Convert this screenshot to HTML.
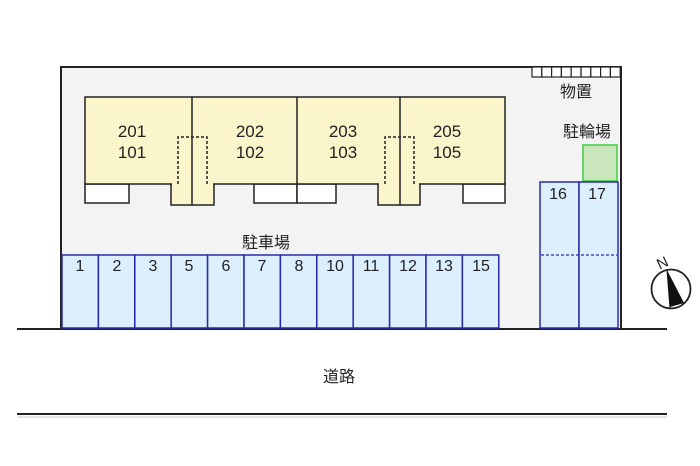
<!DOCTYPE html>
<html><head><meta charset="utf-8"><style>
html,body{margin:0;padding:0;background:#fff;}
svg{display:block;}
text{font-family:"Liberation Sans","Noto Sans CJK JP",sans-serif;fill:#222;}
</style></head><body>
<svg width="700" height="466" viewBox="0 0 700 466" xmlns="http://www.w3.org/2000/svg">
<!-- lot -->
<rect x="61" y="67" width="560" height="262" fill="#f3f3f3" stroke="#222" stroke-width="2"/>
<!-- road lines -->
<line x1="17" y1="329" x2="667" y2="329" stroke="#222" stroke-width="2"/>
<line x1="17" y1="414" x2="667" y2="414" stroke="#222" stroke-width="2"/>
<line x1="17" y1="417" x2="667" y2="417" stroke="#ccc" stroke-width="1"/>
<text x="339" y="382" font-size="16" text-anchor="middle">道路</text>

<!-- storage tiles -->
<g fill="#fff" stroke="#222" stroke-width="1.2">
<rect x="532" y="67" width="9.8" height="10"/><rect x="541.8" y="67" width="9.8" height="10"/><rect x="551.6" y="67" width="9.8" height="10"/><rect x="561.4" y="67" width="9.8" height="10"/><rect x="571.2" y="67" width="9.8" height="10"/><rect x="581" y="67" width="9.8" height="10"/><rect x="590.8" y="67" width="9.8" height="10"/><rect x="600.6" y="67" width="9.8" height="10"/><rect x="610.4" y="67" width="9.8" height="10"/>
</g>
<text x="576" y="97" font-size="16" text-anchor="middle">物置</text>
<text x="587" y="137" font-size="16" text-anchor="middle">駐輪場</text>
<rect x="583" y="145" width="34" height="36" fill="#c9e6bd" stroke="#3ccf3c" stroke-width="1.5"/>

<!-- building -->
<g stroke="#222" stroke-width="1.5">
<rect x="85" y="184" width="44" height="19" fill="#fff"/>
<rect x="254" y="184" width="43" height="19" fill="#fff"/>
<rect x="297" y="184" width="39" height="19" fill="#fff"/>
<rect x="463" y="184" width="42" height="19" fill="#fff"/>
<rect x="171" y="170" width="43" height="35" fill="#faf5cb"/>
<rect x="378" y="170" width="42" height="35" fill="#faf5cb"/>
<rect x="85" y="97" width="420" height="87" fill="#faf5cb"/>
</g>
<rect x="172" y="180" width="41" height="6" fill="#faf5cb"/>
<rect x="379" y="180" width="40" height="6" fill="#faf5cb"/>
<g stroke="#222" stroke-width="1.5">
<line x1="192" y1="97" x2="192" y2="205"/>
<line x1="297" y1="97" x2="297" y2="184"/>
<line x1="400" y1="97" x2="400" y2="205"/>
</g>
<g fill="none" stroke="#222" stroke-width="1.5" stroke-dasharray="3,2">
<polyline points="178,184 178,137 207,137 207,184"/>
<polyline points="385,184 385,137 414,137 414,184"/>
</g>
<g font-size="17" text-anchor="middle">
<text x="132" y="137">201</text><text x="132" y="158">101</text>
<text x="250" y="137">202</text><text x="250" y="158">102</text>
<text x="343" y="137">203</text><text x="343" y="158">103</text>
<text x="447" y="137">205</text><text x="447" y="158">105</text>
</g>

<!-- parking -->
<text x="266" y="248" font-size="16" text-anchor="middle">駐車場</text>
<g fill="#dcefff" stroke="#2a2ab0" stroke-width="1.5">
<rect x="62" y="255" width="36.4" height="73"/><rect x="98.4" y="255" width="36.4" height="73"/><rect x="134.8" y="255" width="36.4" height="73"/><rect x="171.2" y="255" width="36.4" height="73"/><rect x="207.6" y="255" width="36.4" height="73"/><rect x="244" y="255" width="36.4" height="73"/><rect x="280.4" y="255" width="36.4" height="73"/><rect x="316.8" y="255" width="36.4" height="73"/><rect x="353.2" y="255" width="36.4" height="73"/><rect x="389.6" y="255" width="36.4" height="73"/><rect x="426" y="255" width="36.4" height="73"/><rect x="462.4" y="255" width="36.4" height="73"/>
<rect x="540" y="182" width="39" height="146"/><rect x="579" y="182" width="39" height="146"/>
</g>
<line x1="541" y1="255" x2="617" y2="255" stroke="#2a2ab0" stroke-width="1.2" stroke-dasharray="3,2"/>
<g font-size="16" text-anchor="middle">
<text x="80" y="271">1</text><text x="117" y="271">2</text><text x="153" y="271">3</text><text x="189" y="271">5</text><text x="226" y="271">6</text><text x="262" y="271">7</text><text x="299" y="271">8</text><text x="335" y="271">10</text><text x="371" y="271">11</text><text x="408" y="271">12</text><text x="444" y="271">13</text><text x="481" y="271">15</text>
<text x="558" y="199">16</text><text x="597" y="199">17</text>
</g>

<!-- compass -->
<circle cx="671" cy="289" r="19.5" fill="#fff" stroke="#222" stroke-width="1.8"/>
<polygon points="667,270 684,303 670,307" fill="#111"/>
<line x1="667" y1="270" x2="670" y2="308" stroke="#111" stroke-width="1"/>
<text x="662" y="268" font-size="15" text-anchor="middle" transform="rotate(-25 662 262)">N</text>
</svg>
</body></html>
